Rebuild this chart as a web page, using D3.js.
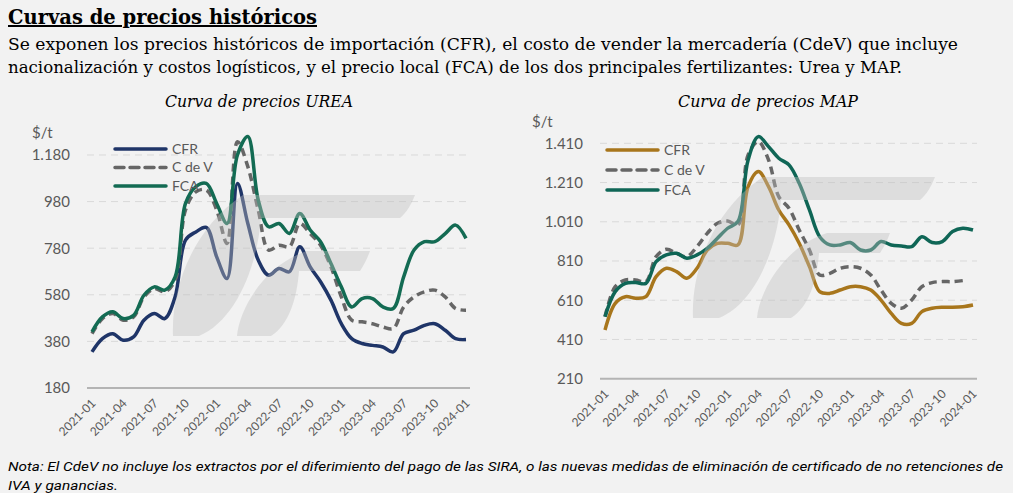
<!DOCTYPE html>
<html>
<head>
<meta charset="utf-8">
<script src="https://cdn.jsdelivr.net/npm/d3@7"></script>
<style>
  body { margin: 0; background: #f2f2f2; }
  svg { display: block; }
</style>
</head>
<body>
<div id="chart"></div>
<script>
// ---- data ----
var months = ["2021-01","2021-02","2021-03","2021-04","2021-05","2021-06","2021-07","2021-08","2021-09",
  "2021-10","2021-11","2021-12","2022-01","2022-02","2022-03","2022-04","2022-05","2022-06","2022-07",
  "2022-08","2022-09","2022-10","2022-11","2022-12","2023-01","2023-02","2023-03","2023-04","2023-05",
  "2023-06","2023-07","2023-08","2023-09","2023-10","2023-11","2023-12","2024-01"];
var tickLabels = ["2021-01","2021-04","2021-07","2021-10","2022-01","2022-04","2022-07","2022-10",
  "2023-01","2023-04","2023-07","2023-10","2024-01"];

var ureaCFR = [335,392,413,385,399,471,500,478,571,815,850,869,743,650,1058,886,729,664,693,679,786,700,
  636,557,456,392,371,363,356,335,413,428,449,456,428,392,388];
var ureaCdV = [413,478,500,471,485,571,607,593,643,944,1022,1030,944,800,1237,1130,944,772,793,786,886,843,
  793,700,571,471,464,456,442,435,528,571,593,600,571,521,514];
var ureaFCA = [421,485,507,478,492,578,614,600,657,972,1044,1058,972,886,1180,1259,987,872,886,843,929,858,
  808,714,614,528,564,564,528,521,657,772,808,808,843,879,822];
var ureaTicks = [180,380,580,780,980,1180];

var mapCFR = [458,594,628,620,628,730,773,756,722,773,866,900,900,892,1189,1266,1189,1070,994,900,781,654,
  645,662,679,679,662,611,543,492,492,552,569,574,574,577,586];
var mapCdV = [526,679,713,713,705,832,870,849,832,883,951,1002,1014,994,1351,1419,1325,1138,1079,968,866,739,
  747,773,781,773,739,662,594,569,611,679,700,705,705,710,null];
var mapFCA = [526,654,696,700,696,807,841,849,824,841,875,926,977,1011,1325,1444,1393,1334,1300,1206,1070,934,
  892,892,904,866,866,909,892,887,883,934,904,909,960,977,968];
var mapTicks = [210,410,610,810,1010,1210,1410];

var seriesNames = ["CFR","C de V","FCA"];

// ---- page ----
var W = 1013, H = 493;
var svg = d3.select("#chart").append("svg")
  .attr("width", W).attr("height", H);
svg.append("rect").attr("width", W).attr("height", H).attr("fill", "#f2f2f2");

var serif = "'DejaVu Serif', 'Liberation Serif', serif";
var sans = "Lato, 'Open Sans', sans-serif";

svg.append("text")
  .attr("x", 8).attr("y", 24)
  .attr("font-family", serif).attr("font-weight", "bold").attr("font-size", 20)
  .attr("textLength", 309).attr("lengthAdjust", "spacingAndGlyphs")
  .attr("text-decoration", "underline")
  .text("Curvas de precios históricos");

svg.append("text")
  .attr("x", 8).attr("y", 50)
  .attr("font-family", serif).attr("font-size", 16)
  .attr("textLength", 950).attr("lengthAdjust", "spacingAndGlyphs")
  .text("Se exponen los precios históricos de importación (CFR), el costo de vender la mercadería (CdeV) que incluye");
svg.append("text")
  .attr("x", 8).attr("y", 73)
  .attr("font-family", serif).attr("font-size", 16)
  .attr("textLength", 894).attr("lengthAdjust", "spacingAndGlyphs")
  .text("nacionalización y costos logísticos, y el precio local (FCA) de los dos principales fertilizantes: Urea y MAP.");

svg.append("text")
  .attr("x", 8).attr("y", 471)
  .attr("font-family", "'Liberation Sans Narrow', Roboto, sans-serif").attr("font-style", "italic").attr("font-size", 13)
  .attr("textLength", 995).attr("lengthAdjust", "spacingAndGlyphs")
  .text("Nota: El CdeV no incluye los extractos por el diferimiento del pago de las SIRA, o las nuevas medidas de eliminación de certificado de no retenciones de");
svg.append("text")
  .attr("x", 8).attr("y", 490)
  .attr("font-family", "'Liberation Sans Narrow', Roboto, sans-serif").attr("font-style", "italic").attr("font-size", 13)
  .attr("textLength", 110).attr("lengthAdjust", "spacingAndGlyphs")
  .text("IVA y ganancias.");

var fmt = d3.formatLocale({decimal: ",", thousands: ".", grouping: [3], currency: ["$", ""]}).format(",");

// watermark logo (two leaves, each running into a bar), local coords
var logoPath =
  "M0,143 C-2,95 20,35 70,2 L242,2 C238,12 234,19 227,25 L88,25 C84,75 62,128 26,143 Z " +
  "M64,143 C66,118 90,72 134,58 L197,58 C194,66 191,72 187,78 L126,78 C124,105 116,132 98,143 Z";

function drawChart(cfg) {
  var g = svg.append("g");

  var x = d3.scalePoint().domain(months).range([cfg.x0, cfg.x1]);
  var y = d3.scaleLinear().domain([cfg.ticks[0], cfg.ticks[cfg.ticks.length - 1]])
    .range([cfg.yBase, cfg.yTop]);

  // title
  g.append("text")
    .attr("x", cfg.titleX).attr("y", 107)
    .attr("text-anchor", "middle")
    .attr("font-family", serif).attr("font-style", "italic").attr("font-size", 16)
    .attr("textLength", cfg.titleW).attr("lengthAdjust", "spacingAndGlyphs")
    .text(cfg.title);

  g.append("text")
    .attr("x", cfg.unitX).attr("y", cfg.unitY)
    .attr("font-family", sans).attr("font-size", 15).attr("fill", "#595959")
    .text("$/t");

  // grid lines
  g.selectAll(".grid").data(cfg.ticks.slice(1)).enter().append("line")
    .attr("x1", cfg.g0).attr("x2", cfg.g1)
    .attr("y1", function(d) { return y(d); }).attr("y2", function(d) { return y(d); })
    .attr("stroke", "#d9d9d9").attr("stroke-width", 1).attr("stroke-dasharray", "7,5");

  g.append("line")
    .attr("x1", cfg.g0).attr("x2", cfg.g1)
    .attr("y1", y(cfg.ticks[0])).attr("y2", y(cfg.ticks[0]))
    .attr("stroke", "#b4b4b4").attr("stroke-width", 2);

  // y axis
  var yAxis = g.append("g")
    .attr("transform", "translate(" + cfg.labX + ",0)")
    .call(d3.axisLeft(y).tickValues(cfg.ticks).tickFormat(fmt).tickSize(0).tickPadding(0));
  yAxis.select(".domain").remove();
  yAxis.selectAll("text")
    .attr("font-family", sans).attr("font-size", 15).attr("fill", "#595959");

  // x axis
  var xAxis = g.append("g")
    .attr("transform", "translate(0," + cfg.yBase + ")")
    .call(d3.axisBottom(x).tickValues(tickLabels).tickSize(0).tickPadding(0));
  xAxis.select(".domain").remove();
  xAxis.selectAll("text")
    .attr("font-family", sans).attr("font-size", 12).attr("fill", "#595959")
    .attr("text-anchor", "end")
    .attr("dy", null).attr("y", null)
    .attr("transform", "translate(4,16) rotate(-45)");

  // lines
  var line = d3.line()
    .defined(function(d) { return d != null; })
    .x(function(d, i) { return x(months[i]); })
    .y(function(d) { return y(d); })
    .curve(d3.curveCatmullRom.alpha(0.5));

  cfg.series.forEach(function(s) {
    g.append("path")
      .datum(s.values)
      .attr("d", line)
      .attr("fill", "none")
      .attr("stroke", s.color)
      .attr("stroke-width", 3.5)
      .attr("stroke-linejoin", "round")
      .attr("stroke-dasharray", s.dash ? "8,5" : null);
  });

  // watermark on top, translucent
  g.append("path")
    .attr("d", logoPath)
    .attr("transform", "translate(" + cfg.logoX + "," + cfg.logoY + ")")
    .attr("fill", "#bdbdbd").attr("opacity", 0.4);

  // legend
  var leg = g.selectAll(".leg").data(cfg.series).enter().append("g")
    .attr("transform", function(d, i) { return "translate(" + cfg.legX + "," + (cfg.legY + i * cfg.legStep) + ")"; });
  leg.append("line")
    .attr("x1", 0).attr("x2", 51)
    .attr("stroke", function(d) { return d.color; })
    .attr("stroke-width", 3.5).attr("stroke-linecap", "round")
    .attr("stroke-dasharray", function(d) { return d.dash ? "9,6" : null; });
  leg.append("text")
    .attr("x", 57).attr("dy", "0.35em")
    .attr("font-family", sans).attr("font-size", 14).attr("fill", "#595959")
    .text(function(d) { return d.name; });
}

drawChart({
  title: "Curva de precios UREA", titleX: 259, titleW: 188,
  unitX: 32, unitY: 138,
  ticks: ureaTicks, yBase: 388, yTop: 155,
  x0: 92, x1: 466, g0: 87, g1: 470, labX: 70,
  logoX: 173, logoY: 193,
  legX: 115, legY: 149, legStep: 18.5,
  series: [
    {name: seriesNames[0], values: ureaCFR, color: "#1f3568"},
    {name: seriesNames[1], values: ureaCdV, color: "#666666", dash: true},
    {name: seriesNames[2], values: ureaFCA, color: "#136b53"}
  ]
});

drawChart({
  title: "Curva de precios MAP", titleX: 768, titleW: 180,
  unitX: 532, unitY: 127,
  ticks: mapTicks, yBase: 378.7, yTop: 143.3,
  x0: 605, x1: 973, g0: 600, g1: 977, labX: 583,
  logoX: 693, logoY: 175,
  legX: 607, legY: 150, legStep: 20,
  series: [
    {name: seriesNames[0], values: mapCFR, color: "#a8761c"},
    {name: seriesNames[1], values: mapCdV, color: "#666666", dash: true},
    {name: seriesNames[2], values: mapFCA, color: "#0f6656"}
  ]
});
</script>
</body>
</html>
